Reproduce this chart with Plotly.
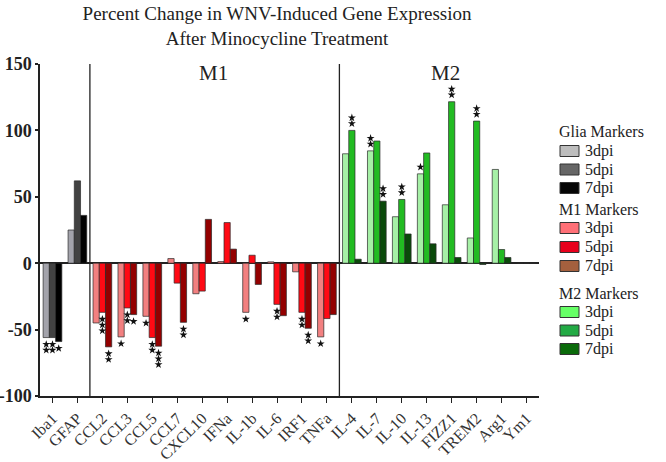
import plotly.graph_objects as go

genes = ["Iba1", "GFAP", "CCL2", "CCL3", "CCL5", "CCL7", "CXCL10", "IFNa", "IL-1b",
         "IL-6", "IRF1", "TNFa", "IL-4", "IL-7", "IL-10", "IL-13", "FIZZ1", "TREM2",
         "Arg1", "Ym1"]

glia_genes = ["Iba1", "GFAP"]
glia_3dpi = [-56, 25]
glia_5dpi = [-56, 62]
glia_7dpi = [-59, 36]
glia_stars = [[2, 2, 1], [0, 0, 0]]

m1_genes = ["CCL2", "CCL3", "CCL5", "CCL7", "CXCL10", "IFNa", "IL-1b", "IL-6", "IRF1", "TNFa"]
m1_3dpi = [-45, -55.5, -40, 3.5, -23, 1.2, -37, 1, -6.5, -55.5]
m1_5dpi = [-37, -33.7, -56, -15, -21, 30.6, 6, -31, -37, -41.7]
m1_7dpi = [-63, -38.7, -62.5, -44.5, 33, 10.6, -16, -39.5, -49, -38.7]
m1_stars = [[0, 3, 2], [1, 2, 1], [1, 2, 3], [0, 0, 2], [0, 0, 0], [0, 0, 0],
            [1, 0, 0], [0, 2, 0], [0, 2, 2], [1, 0, 0]]

m2_genes = ["IL-4", "IL-7", "IL-10", "IL-13", "FIZZ1", "TREM2", "Arg1", "Ym1"]
m2_3dpi = [82.4, 84.6, 35, 67.3, 44, 19, 70.6, 0]
m2_5dpi = [100, 92, 48, 83, 121.6, 107, 10.3, 0]
m2_7dpi = [3, 46.7, 22, 14.6, 4.3, -1, 4.3, 0]
m2_stars = [[0, 2, 0], [2, 0, 2], [0, 2, 0], [1, 0, 0], [0, 2, 0], [0, 2, 0],
            [0, 0, 0], [0, 0, 0]]

timepoints = ["3dpi", "5dpi", "7dpi"]
y_ticks = [-100, -50, 0, 50, 100, 150]

groups = [
    ("Glia Markers", glia_genes, [glia_3dpi, glia_5dpi, glia_7dpi], glia_stars,
     ["#a3a3ab", "#424242", "#000000"], ["#bdbdbd", "#666666", "#050505"]),
    ("M1 Markers", m1_genes, [m1_3dpi, m1_5dpi, m1_7dpi], m1_stars,
     ["#f28080", "#ff0a14", "#930000"], ["#ff7077", "#e8001c", "#a4603e"]),
    ("M2 Markers", m2_genes, [m2_3dpi, m2_5dpi, m2_7dpi], m2_stars,
     ["#a6f0a6", "#22bb22", "#0a4a0a"], ["#66ff66", "#22aa44", "#0a6a0a"]),
]

section_lines = [1.5, 11.5]
section_labels = [("M1", 6.45), ("M2", 15.75)]

# figure geometry (pixels)
W, H = 666, 462
ML, MR, MT, MB = 40, 127, 64, 66
PW, PH = W - ML - MR, H - MT - MB

BAR_W = 0.25
PX_PER_UNIT = PH / 250.0
SERIF = "Liberation Serif"


def px_to_paper(px, py):
    return (px - ML) / PW, (H - MB - py) / PH


fig = go.Figure()
star_x, star_y = [], []
for gname, glist, series, stars, bar_cols, leg_cols in groups:
    xs = [genes.index(g) for g in glist]
    for j, tp in enumerate(timepoints):
        off = -1.5 * BAR_W + j * BAR_W
        fig.add_trace(go.Bar(
            x=xs, y=series[j], width=BAR_W, offset=off, name=f"{gname} {tp}",
            marker=dict(color=bar_cols[j], line=dict(color="#2a2a2a", width=0.7)),
            showlegend=False, hoverinfo="skip"))
        for k, xi in enumerate(xs):
            n = stars[k][j]
            v = series[j][k]
            sign = -1 if v < 0 else 1
            for s in range(n):
                star_x.append(xi + off + BAR_W / 2)
                star_y.append(v + sign * (6.8 + 5.8 * s) / PX_PER_UNIT)

fig.add_trace(go.Scatter(x=star_x, y=star_y, mode="markers",
                         marker=dict(symbol="star", size=6, color="#111"),
                         showlegend=False, hoverinfo="skip"))

shapes = [dict(type="line", xref="x", yref="y", x0=xl, x1=xl, y0=-100, y1=150,
               line=dict(color="#222", width=1.3)) for xl in section_lines]
annotations = [dict(text=t, x=xv, y=143, xref="x", yref="y", showarrow=False,
                    font=dict(family=SERIF, size=21, color="#222")) for t, xv in section_labels]

# legend drawn as a key panel (group titles + swatches)
legend_title_py = [131, 209, 293]
legend_item_py = [[151, 169.5, 188], [228, 247, 266], [312, 330.5, 349]]
for gi, (gname, _, _, _, _, leg_cols) in enumerate(groups):
    tx, ty = px_to_paper(557, legend_title_py[gi])
    annotations.append(dict(text=gname, x=tx, y=ty, xref="paper", yref="paper",
                            xanchor="left", yanchor="middle", showarrow=False,
                            font=dict(family=SERIF, size=16, color="#222")))
    for j, tp in enumerate(timepoints):
        py = legend_item_py[gi][j]
        x0, y0 = px_to_paper(560, py + 5.5)
        x1, y1 = px_to_paper(579, py - 5.5)
        shapes.append(dict(type="rect", xref="paper", yref="paper", x0=x0, x1=x1,
                           y0=y0, y1=y1, fillcolor=leg_cols[j],
                           line=dict(color="#333", width=1)))
        lx, ly = px_to_paper(583, py)
        annotations.append(dict(text=tp, x=lx, y=ly, xref="paper", yref="paper",
                                xanchor="left", yanchor="middle", showarrow=False,
                                font=dict(family=SERIF, size=16, color="#222")))

fig.update_layout(
    width=W, height=H,
    margin=dict(l=ML, r=MR, t=MT, b=MB),
    paper_bgcolor="white", plot_bgcolor="white",
    barmode="overlay", showlegend=False,
    title=dict(text="Percent Change in WNV-Induced Gene Expression<br>After Minocycline Treatment",
               xref="container", x=0.416, xanchor="center",
               yref="container", y=0.957, yanchor="middle",
               font=dict(family=SERIF, size=19, color="#222")),
    shapes=shapes, annotations=annotations,
    font=dict(family=SERIF),
)
fig.update_xaxes(range=[-0.5, 19.5], tickmode="array", tickvals=list(range(len(genes))),
                 ticktext=genes, tickangle=-45, ticks="outside", ticklen=5, tickwidth=1.3,
                 tickcolor="#222", showline=True, linecolor="#222", linewidth=1.5,
                 showgrid=False, zeroline=False, automargin=False,
                 tickfont=dict(family=SERIF, size=16, color="#333"))
fig.update_yaxes(range=[-100, 150], tickmode="array", tickvals=y_ticks,
                 ticktext=[f"<b>{v}</b>" for v in y_ticks], ticks="outside", ticklen=3,
                 tickwidth=1.5, tickcolor="#222", showline=True, linecolor="#222",
                 linewidth=1.5, showgrid=False, zeroline=True, zerolinecolor="#222",
                 zerolinewidth=1.5, automargin=False,
                 tickfont=dict(family=SERIF, size=18, color="#222"))

fig.write_html("out.html", config={"displayModeBar": False},
               post_script="document.body.style.margin='0';")
